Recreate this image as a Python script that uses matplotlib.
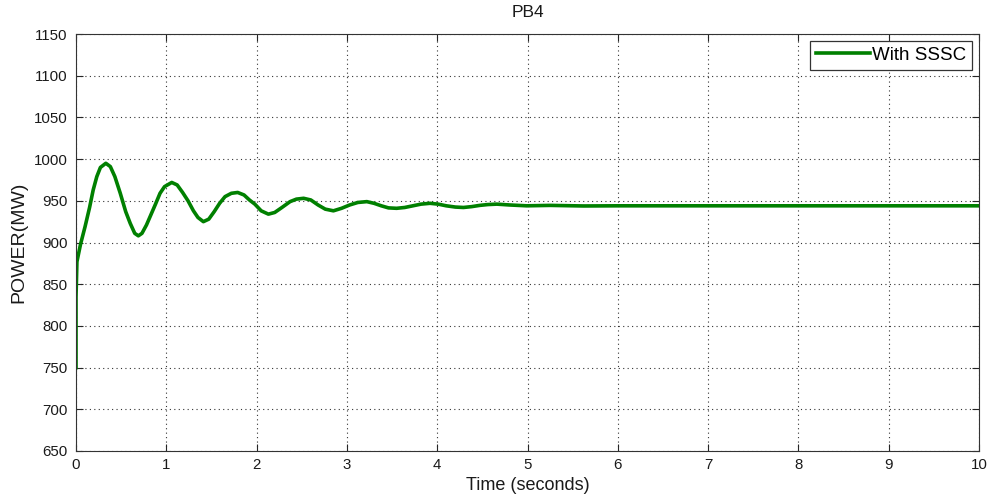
import matplotlib

matplotlib.use('Agg')
import matplotlib.pyplot as plt

plt.rcParams['font.family'] = ['Liberation Sans', 'DejaVu Sans']

# values (seconds, MW)
time_s = [0.0, 0.0, 0.01, 0.05, 0.10, 0.15, 0.19, 0.23, 0.27, 0.33, 0.38, 0.43,
          0.49, 0.55, 0.60, 0.65, 0.69, 0.73, 0.78, 0.82, 0.88, 0.93, 0.98, 1.06,
          1.12, 1.18, 1.24, 1.30, 1.35, 1.41, 1.47, 1.53, 1.59, 1.65, 1.72, 1.79,
          1.86, 1.92, 1.98, 2.05, 2.13, 2.20, 2.28, 2.37, 2.44, 2.52, 2.60, 2.68,
          2.76, 2.85, 2.94, 3.03, 3.12, 3.22, 3.30, 3.38, 3.46, 3.55, 3.64, 3.73,
          3.82, 3.92, 4.01, 4.10, 4.20, 4.29, 4.38, 4.47, 4.56, 4.66, 4.80, 4.99,
          5.25, 5.62, 6.0, 7.0, 8.0, 9.0, 10.0]
power_mw = [750, 835, 877, 898, 919, 942, 963, 979, 990, 995, 991, 979,
            959, 937, 923, 911, 908, 911, 921, 931, 946, 959, 967, 972,
            969, 960, 950, 938, 930, 925, 928, 937, 947, 955, 959, 960,
            957, 951, 946, 938, 934, 936, 942, 949, 952, 953, 951, 945,
            940, 938, 941, 945, 948, 949, 947, 944, 941.5, 941, 942, 944,
            946, 947, 946, 944, 942.5, 942, 943, 944.5, 945.5, 946, 945, 944,
            944.5, 943.8, 944, 944, 944, 944, 944]

fig = plt.figure(figsize=(9.9, 5), dpi=100)
ax = fig.add_axes([0.0768, 0.098, 0.9122, 0.834])

ax.plot(time_s, power_mw, color='#008000', linewidth=2.6, label='With SSSC',
        solid_joinstyle='round')

ax.set_xlim(0, 10)
ax.set_ylim(650, 1150)
ax.set_xticks(range(0, 11))
ax.set_yticks(range(650, 1151, 50))
ax.grid(True, linestyle=(0, (1, 3)), color='#333333', linewidth=0.8)
ax.tick_params(direction='in', length=5, top=True, right=True,
               labelsize=10.8, colors='#262626', labelcolor='#1a1a1a')
ax.tick_params(axis='y', pad=6)
ax.tick_params(axis='x', pad=5)
for s in ax.spines.values():
    s.set_color('#333333')

ax.set_title('PB4', fontsize=12.5, pad=12, color='#1a1a1a')
ax.set_xlabel('Time (seconds)', fontsize=13, labelpad=4, color='#1a1a1a')
ax.set_ylabel('POWER(MW)', fontsize=14, labelpad=5, color='#1a1a1a')

leg = ax.legend(loc='upper right', fontsize=13.5, fancybox=False, framealpha=1,
                edgecolor='#333333', handlelength=2.9, borderaxespad=0.38,
                borderpad=0.3, handletextpad=0.1)
leg.get_frame().set_linewidth(0.9)

plt.savefig('out.png', dpi=100)
plt.close()
